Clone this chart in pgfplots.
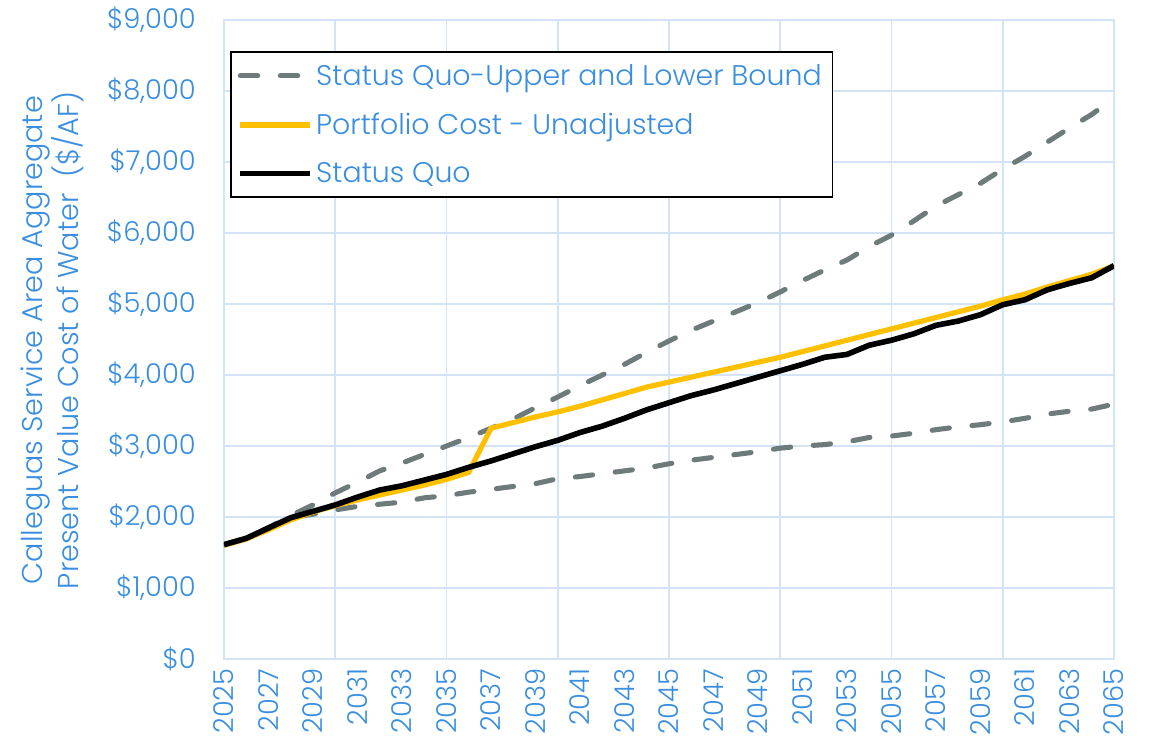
\documentclass[border=0pt]{standalone}
\usepackage{pgfplots}
\pgfplotsset{compat=1.18}
\usepackage{pgfplotstable}
\usepackage{fontspec}
\setmainfont{Poppins}[UprightFont={* Light}]
\definecolor{txtblue}{HTML}{3A8EE0}
\definecolor{gridblue}{HTML}{D2E4F6}
\definecolor{sqgray}{HTML}{6E7B7B}
\definecolor{portyellow}{HTML}{FFC000}
\pgfplotstableread{
year sq port up lo
2025 1610 1600 1610 1610
2026 1700 1690 1700 1700
2027 1845 1820 1850 1850
2028 1990 1960 2020 1990
2029 2080 2070 2170 2040
2030 2170 2160 2340 2100
2031 2280 2240 2490 2150
2032 2380 2310 2650 2180
2033 2440 2380 2760 2210
2034 2520 2450 2880 2270
2035 2600 2530 3000 2300
2036 2700 2630 3120 2350
2037 2790 3250 3250 2390
2038 2890 3330 3380 2430
2039 2990 3410 3540 2470
2040 3080 3480 3690 2540
2041 3190 3560 3850 2570
2042 3280 3650 4000 2610
2043 3390 3740 4150 2650
2044 3510 3830 4320 2690
2045 3610 3900 4480 2750
2046 3710 3970 4630 2800
2047 3790 4040 4760 2840
2048 3880 4110 4890 2880
2049 3970 4180 5020 2920
2050 4060 4250 5170 2970
2051 4150 4330 5330 3000
2052 4250 4410 5480 3020
2053 4290 4490 5620 3060
2054 4420 4570 5810 3120
2055 4490 4650 5970 3140
2056 4580 4730 6170 3180
2057 4700 4810 6380 3230
2058 4760 4890 6540 3270
2059 4850 4970 6700 3300
2060 4990 5060 6900 3340
2061 5060 5140 7080 3390
2062 5200 5240 7280 3450
2063 5290 5330 7480 3490
2064 5370 5420 7670 3520
2065 5540 5540 7900 3590
}\datatable
\begin{document}
\begin{tikzpicture}
\useasboundingbox (-168pt,-63.75pt) rectangle (696.75pt,494.25pt);
\begin{axis}[
  at={(0,0)}, anchor=south west,
  scale only axis, width=667.5pt, height=479.25pt,
  xmin=2025, xmax=2065, ymin=0, ymax=9000,
  axis line style={gridblue, line width=1.2pt},
  xtick={2025,2027,...,2065},
  ytick={0,1000,...,9000},
  extra x ticks={2030,2035,...,2060},
  extra x tick labels={},
  extra x tick style={grid=major},
  xmajorgrids=false, ymajorgrids=true,
  major grid style={gridblue, line width=1.2pt},
  major tick length=0pt,
  scaled y ticks=false,
  tick label style={font=\fontsize{20.5pt}{24pt}\selectfont, text=txtblue, inner sep=0pt},
  xticklabel style={rotate=90, anchor=east, /pgf/number format/1000 sep={}},
  xticklabel shift=7pt,
  yticklabel shift=21pt,
  yticklabel={\$\pgfmathprintnumber[assume math mode=true, fixed, precision=0, 1000 sep={,}]{\tick}},
  xticklabel={\pgfmathprintnumber[assume math mode=true, 1000 sep={}]{\tick}},
  ylabel={Calleguas Service Area Aggregate\\Present Value Cost of Water\ \ (\$/AF)},
  every axis y label/.style={at={(axis description cs:-0.193,0.499)}, rotate=90, anchor=center, align=center, text=txtblue, font=\fontsize{21.5pt}{24pt}\selectfont},
  legend style={at={(0.007,0.951)}, anchor=north west, draw=black, line width=1.4pt,
    font=\fontsize{21.3pt}{25pt}\selectfont, text=txtblue, fill=white,
    inner xsep=5pt, inner ysep=7pt, row sep=15.5pt,
    nodes={inner xsep=3pt}},
  legend cell align=left,
  legend image code/.code={\draw[#1, line width=3.8pt] (0pt,0pt) -- (52pt,0pt);},
]
\addplot[sqgray, line width=3.8pt, line cap=round, dash pattern=on 13pt off 17pt] table[x=year,y=up] {\datatable};
\addlegendentry{Status Quo-Upper and Lower Bound}
\addplot[sqgray, line width=3.8pt, line cap=round, dash pattern=on 13pt off 17pt, forget plot] table[x=year,y=lo] {\datatable};
\addplot[portyellow, line width=3.9pt] table[x=year,y=port] {\datatable};
\addlegendentry{Portfolio Cost - Unadjusted}
\addplot[black, line width=4.2pt] table[x=year,y=sq] {\datatable};
\addlegendentry{Status Quo}
\end{axis}
\end{tikzpicture}
\end{document}
